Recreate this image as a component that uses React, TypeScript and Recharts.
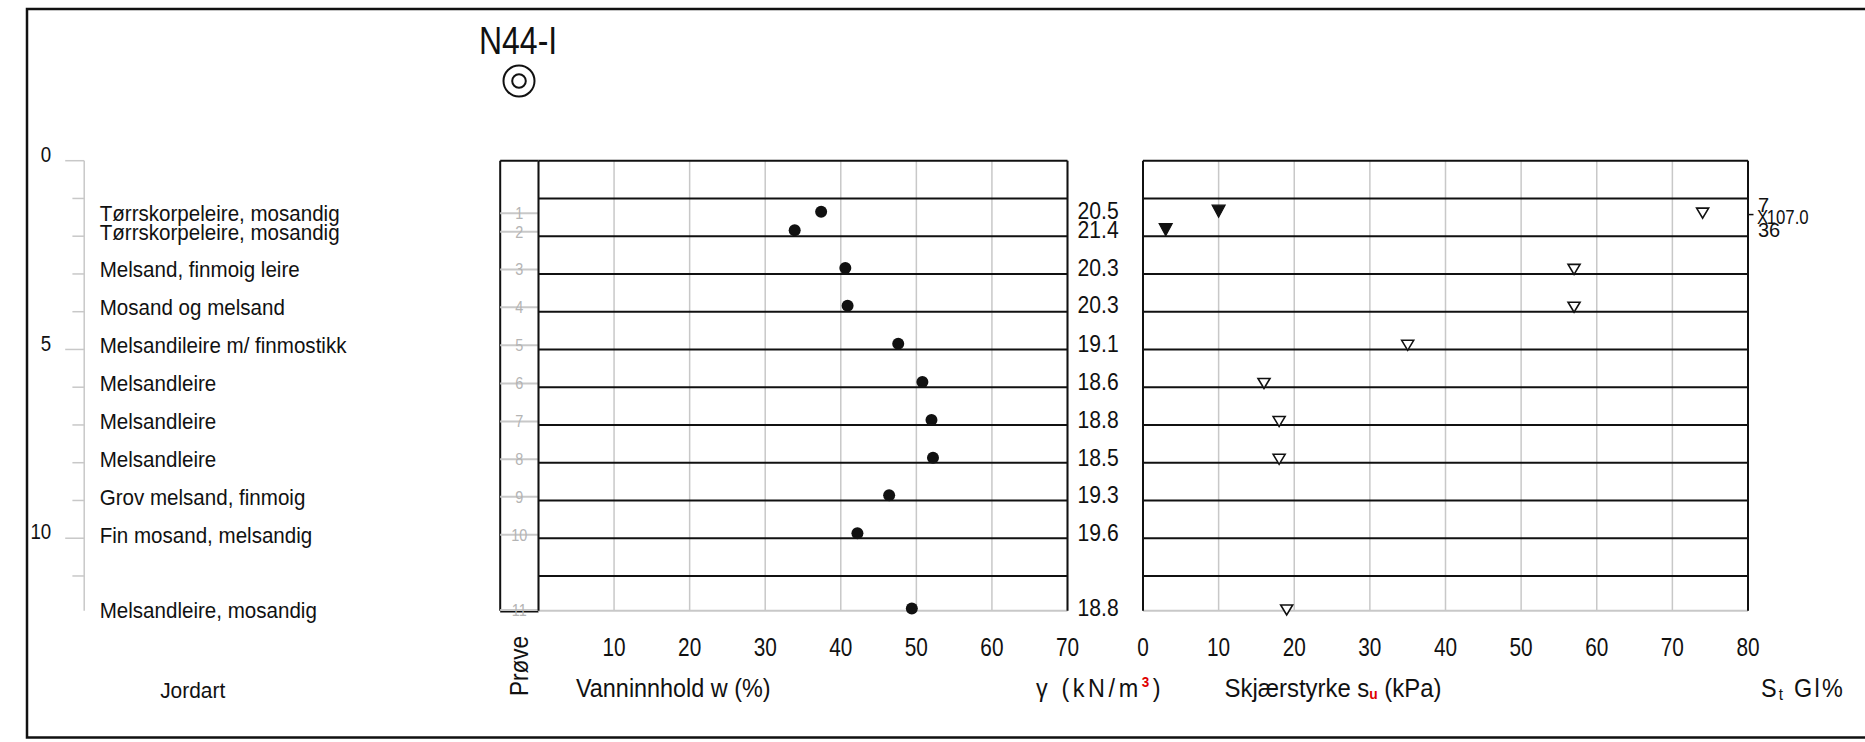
import React from 'react';
import { ScatterChart, Scatter, XAxis, YAxis, CartesianGrid, ReferenceLine } from 'recharts';

const W = 1865;
const H = 742;
const FONT = "'Liberation Sans', Arial, sans-serif";
const INK = '#111';
const GRID = '#c8c8c8';
const LABEL_GRAY = '#b4b4b4';

const PLOT_TOP = 160.7;
const PLOT_BOTTOM = 610.7;
const DEPTH_MAX = 11.92;
const X_AXIS_H = 60;

// ---- data ----
const depthTicks = [0, 1, 2, 3, 4, 5, 6, 7, 8, 9, 10, 11];
const rowLines = [1, 2, 3, 4, 5, 6, 7, 8, 9, 10, 11];
const sampleNo = [1, 2, 3, 4, 5, 6, 7, 8, 9, 10, 11];
const sampleDepth = [1.39, 1.88, 2.88, 3.88, 4.89, 5.9, 6.91, 7.91, 8.9, 9.91, 11.9];
const soilType = [
  'Tørrskorpeleire, mosandig',
  'Tørrskorpeleire, mosandig',
  'Melsand, finmoig leire',
  'Mosand og melsand',
  'Melsandileire m/ finmostikk',
  'Melsandleire',
  'Melsandleire',
  'Melsandleire',
  'Grov melsand, finmoig',
  'Fin mosand, melsandig',
  'Melsandleire, mosandig',
];
const waterContent = [37.4, 33.9, 40.6, 40.9, 47.6, 50.8, 52.0, 52.2, 46.4, 42.2, 49.4];
const unitWeight = ['20.5', '21.4', '20.3', '20.3', '19.1', '18.6', '18.8', '18.5', '19.3', '19.6', '18.8'];
const wTicks = [10, 20, 30, 40, 50, 60, 70];
const suTicks = [0, 10, 20, 30, 40, 50, 60, 70, 80];
const suFilledSample = [1, 2];
const suFilled = [10, 3];
const suOpenSample = [1, 3, 4, 5, 6, 7, 8, 11];
const suOpen = [74, 57, 57, 35, 16, 18, 18, 19];
const stLabels = ['7', '36'];
const stDepth = [1.17, 1.84];
const glLabels = ['107.0'];
const glDepth = [1.48];

// ---- derived tables ----
const soilData = sampleDepth.map((d, i) => ({ x: 0, depth: d, label: soilType[i] }));
const sampleData = sampleDepth.map((d, i) => ({ x: 0.5, depth: d, label: String(sampleNo[i]) }));
const wData = sampleDepth.map((d, i) => ({ x: waterContent[i], depth: d }));
const gammaData = sampleDepth.map((d, i) => ({ x: 70, depth: d, label: unitWeight[i] }));
const suFilledData = suFilledSample.map((s, i) => ({ x: suFilled[i], depth: sampleDepth[s - 1] }));
const suOpenData = suOpenSample.map((s, i) => ({ x: suOpen[i], depth: sampleDepth[s - 1] }));
const stData = stLabels.map((t, i) => ({ x: 80, depth: stDepth[i], label: t }));
const glData = glLabels.map((t, i) => ({ x: 80, depth: glDepth[i], label: t }));

// narrow text: the drawing font is a tall, narrow technical font
const NText = ({ x, y, size, sx = 0.9, anchor = 'start', fill = INK, ls = 0, rotate, children }: any) => (
  <text
    transform={`translate(${x} ${y})${rotate ? ` rotate(${rotate})` : ''} scale(${sx} 1)`}
    textAnchor={anchor}
    dominantBaseline="central"
    fontFamily={FONT}
    fontSize={size}
    fill={fill}
    letterSpacing={ls}
  >
    {children}
  </text>
);

const DepthTick = (props: any) => {
  const { x, y, payload } = props;
  const major = payload.value % 5 === 0;
  return (
    <g>
      <line x1={x - (major ? 19 : 11.8)} x2={x} y1={y} y2={y} stroke={GRID} strokeWidth={1.5} />
      {major && (
        <NText x={x - 33} y={y - 6.5} size={22} sx={0.85} anchor="end">
          {payload.value}
        </NText>
      )}
    </g>
  );
};

const XTick = (props: any) => {
  const { x, y, payload } = props;
  return (
    <NText x={x} y={y + 36} size={26} sx={0.8} anchor="middle">
      {payload.value}
    </NText>
  );
};

const SoilLabel = (props: any) => (
  <NText x={props.cx + 15.5} y={props.cy} size={22.5} sx={0.914}>
    {props.payload.label}
  </NText>
);

const SampleMark = (props: any) => (
  <g>
    <line x1={props.cx - 19.2} x2={props.cx + 19.2} y1={props.cy} y2={props.cy} stroke={GRID} strokeWidth={2} />
    <NText x={props.cx} y={props.cy} size={17} sx={0.85} anchor="middle" fill={LABEL_GRAY}>
      {props.payload.label}
    </NText>
  </g>
);

const Dot = (props: any) => <circle cx={props.cx} cy={props.cy - 1.5} r={6} fill={INK} />;

const GammaLabel = (props: any) => (
  <NText x={props.cx + 10} y={props.cy - 1.5} size={23} sx={0.92}>
    {props.payload.label}
  </NText>
);

const FilledTri = (props: any) => {
  const { cx } = props;
  const cy = props.cy - 2;
  return <path d={`M${cx - 6.5},${cy - 6} L${cx + 6.5},${cy - 6} L${cx},${cy + 6} Z`} fill={INK} stroke={INK} strokeWidth={1.2} />;
};

const OpenTri = (props: any) => {
  const { cx, cy } = props;
  return <path d={`M${cx - 6},${cy - 5} L${cx + 6},${cy - 5} L${cx},${cy + 5} Z`} fill="#fff" stroke={INK} strokeWidth={1.6} />;
};

const StLabel = (props: any) => (
  <NText x={props.cx + 10} y={props.cy} size={20} sx={1}>
    {props.payload.label}
  </NText>
);

const GlLabel = (props: any) => (
  <g>
    <line x1={props.cx} x2={props.cx + 5.5} y1={props.cy - 2} y2={props.cy - 2} stroke={INK} strokeWidth={1.5} />
    <NText x={props.cx + 9} y={props.cy} size={21} sx={0.8}>
      X
    </NText>
    <NText x={props.cx + 18.7} y={props.cy} size={21} sx={0.8}>
      {props.payload.label}
    </NText>
  </g>
);

const layer: React.CSSProperties = { position: 'absolute', left: 0, top: 0 };

const yAxisProps = {
  type: 'number' as const,
  dataKey: 'depth',
  domain: [0, DEPTH_MAX],
  reversed: true,
};

function App() {
  return (
    <div style={{ position: 'absolute', left: 0, top: 0, width: W, height: H, background: '#fff', overflow: 'hidden' }}>
      {/* depth axis + soil description */}
      <div style={layer}>
        <ScatterChart width={W} height={H} margin={{ top: PLOT_TOP, bottom: H - PLOT_BOTTOM, left: 34.2, right: W - 500 }}>
          <XAxis type="number" dataKey="x" domain={[0, 1]} hide />
          <YAxis
            {...yAxisProps}
            width={50}
            ticks={depthTicks}
            interval={0}
            tick={<DepthTick />}
            tickLine={false}
            tickSize={0}
            tickMargin={0}
            axisLine={{ stroke: GRID, strokeWidth: 1.5 }}
          />
          <Scatter data={soilData} shape={<SoilLabel />} isAnimationActive={false} />
        </ScatterChart>
      </div>

      {/* Prøve column */}
      <div style={layer}>
        <ScatterChart width={W} height={H} margin={{ top: PLOT_TOP, bottom: H - PLOT_BOTTOM, left: 500.2, right: W - 538.5 }}>
          <XAxis type="number" dataKey="x" domain={[0, 1]} hide />
          <YAxis {...yAxisProps} hide />
          <Scatter data={sampleData} shape={<SampleMark />} isAnimationActive={false} />
          <ReferenceLine x={0} stroke={INK} strokeWidth={2} ifOverflow="visible" />
          <ReferenceLine y={0} stroke={INK} strokeWidth={2} ifOverflow="visible" />
          <ReferenceLine y={DEPTH_MAX} stroke={INK} strokeWidth={3.5} ifOverflow="visible" />
        </ScatterChart>
      </div>

      {/* water content panel */}
      <div style={layer}>
        <ScatterChart width={W} height={H} margin={{ top: PLOT_TOP, bottom: H - PLOT_BOTTOM - X_AXIS_H, left: 538.5, right: W - 1067.5 }}>
          <CartesianGrid horizontal={false} stroke={GRID} strokeWidth={1.5} />
          <XAxis
            type="number"
            dataKey="x"
            domain={[0, 70]}
            ticks={wTicks}
            interval={0}
            height={X_AXIS_H}
            axisLine={false}
            tickLine={false}
            tickSize={0}
            tickMargin={0}
            tick={<XTick />}
          />
          <YAxis {...yAxisProps} hide />
          {rowLines.map((d) => (
            <ReferenceLine key={d} y={d} stroke={INK} strokeWidth={2} ifOverflow="visible" />
          ))}
          <ReferenceLine y={0} stroke={INK} strokeWidth={2} ifOverflow="visible" />
          <ReferenceLine y={DEPTH_MAX} stroke={GRID} strokeWidth={2} ifOverflow="visible" />
          <ReferenceLine x={0} stroke={INK} strokeWidth={2} ifOverflow="visible" />
          <ReferenceLine x={70} stroke={INK} strokeWidth={2} ifOverflow="visible" />
          <Scatter data={wData} shape={<Dot />} isAnimationActive={false} />
          <Scatter data={gammaData} shape={<GammaLabel />} isAnimationActive={false} />
        </ScatterChart>
      </div>

      {/* shear strength panel */}
      <div style={layer}>
        <ScatterChart width={W} height={H} margin={{ top: PLOT_TOP, bottom: H - PLOT_BOTTOM - X_AXIS_H, left: 1143, right: W - 1748 }}>
          <CartesianGrid horizontal={false} stroke={GRID} strokeWidth={1.5} />
          <XAxis
            type="number"
            dataKey="x"
            domain={[0, 80]}
            ticks={suTicks}
            interval={0}
            height={X_AXIS_H}
            axisLine={false}
            tickLine={false}
            tickSize={0}
            tickMargin={0}
            tick={<XTick />}
          />
          <YAxis {...yAxisProps} hide />
          {rowLines.map((d) => (
            <ReferenceLine key={d} y={d} stroke={INK} strokeWidth={2} ifOverflow="visible" />
          ))}
          <ReferenceLine y={0} stroke={INK} strokeWidth={2} ifOverflow="visible" />
          <ReferenceLine y={DEPTH_MAX} stroke={GRID} strokeWidth={2} ifOverflow="visible" />
          <ReferenceLine x={0} stroke={INK} strokeWidth={2} ifOverflow="visible" />
          <ReferenceLine x={80} stroke={INK} strokeWidth={2} ifOverflow="visible" />
          <Scatter data={suOpenData} shape={<OpenTri />} isAnimationActive={false} />
          <Scatter data={suFilledData} shape={<FilledTri />} isAnimationActive={false} />
          <Scatter data={stData} shape={<StLabel />} isAnimationActive={false} />
          <Scatter data={glData} shape={<GlLabel />} isAnimationActive={false} />
        </ScatterChart>
      </div>

      {/* frame, title and axis titles */}
      <svg width={W} height={H} style={layer}>
        <rect x={27} y={9} width={1900} height={728.5} fill="none" stroke={INK} strokeWidth={2.5} />
        <NText x={479} y={41} size={39} sx={0.82}>N44-I</NText>
        <circle cx={519} cy={81} r={15.5} fill="none" stroke={INK} strokeWidth={2} />
        <circle cx={519} cy={81} r={6.8} fill="none" stroke={INK} strokeWidth={2} />
        <NText x={192.7} y={690} size={22.5} sx={0.93} anchor="middle">Jordart</NText>
        <NText x={519} y={666} size={26} sx={0.866} anchor="middle" rotate={-90}>Prøve</NText>
        <NText x={576} y={688} size={26} sx={0.9}>Vanninnhold w (%)</NText>
        <NText x={1036} y={688} size={26} sx={0.9} ls={4}>
          γ (kN/m
          <tspan fill="#e00000" fontSize={15} fontWeight="bold" dy={-6}>3</tspan>
          <tspan dy={6}>)</tspan>
        </NText>
        <NText x={1224.5} y={688} size={26} sx={0.92}>
          Skjærstyrke s
          <tspan fill="#e00000" fontSize={15} fontWeight="bold" dy={6}>u</tspan>
          <tspan dy={-6}> (kPa)</tspan>
        </NText>
        <NText x={1761} y={688} size={26} sx={0.9} ls={2.5}>
          S
          <tspan fontSize={17} dy={6}>t</tspan>
          <tspan dy={-6}> Gl%</tspan>
        </NText>
      </svg>
    </div>
  );
}

export default App;
